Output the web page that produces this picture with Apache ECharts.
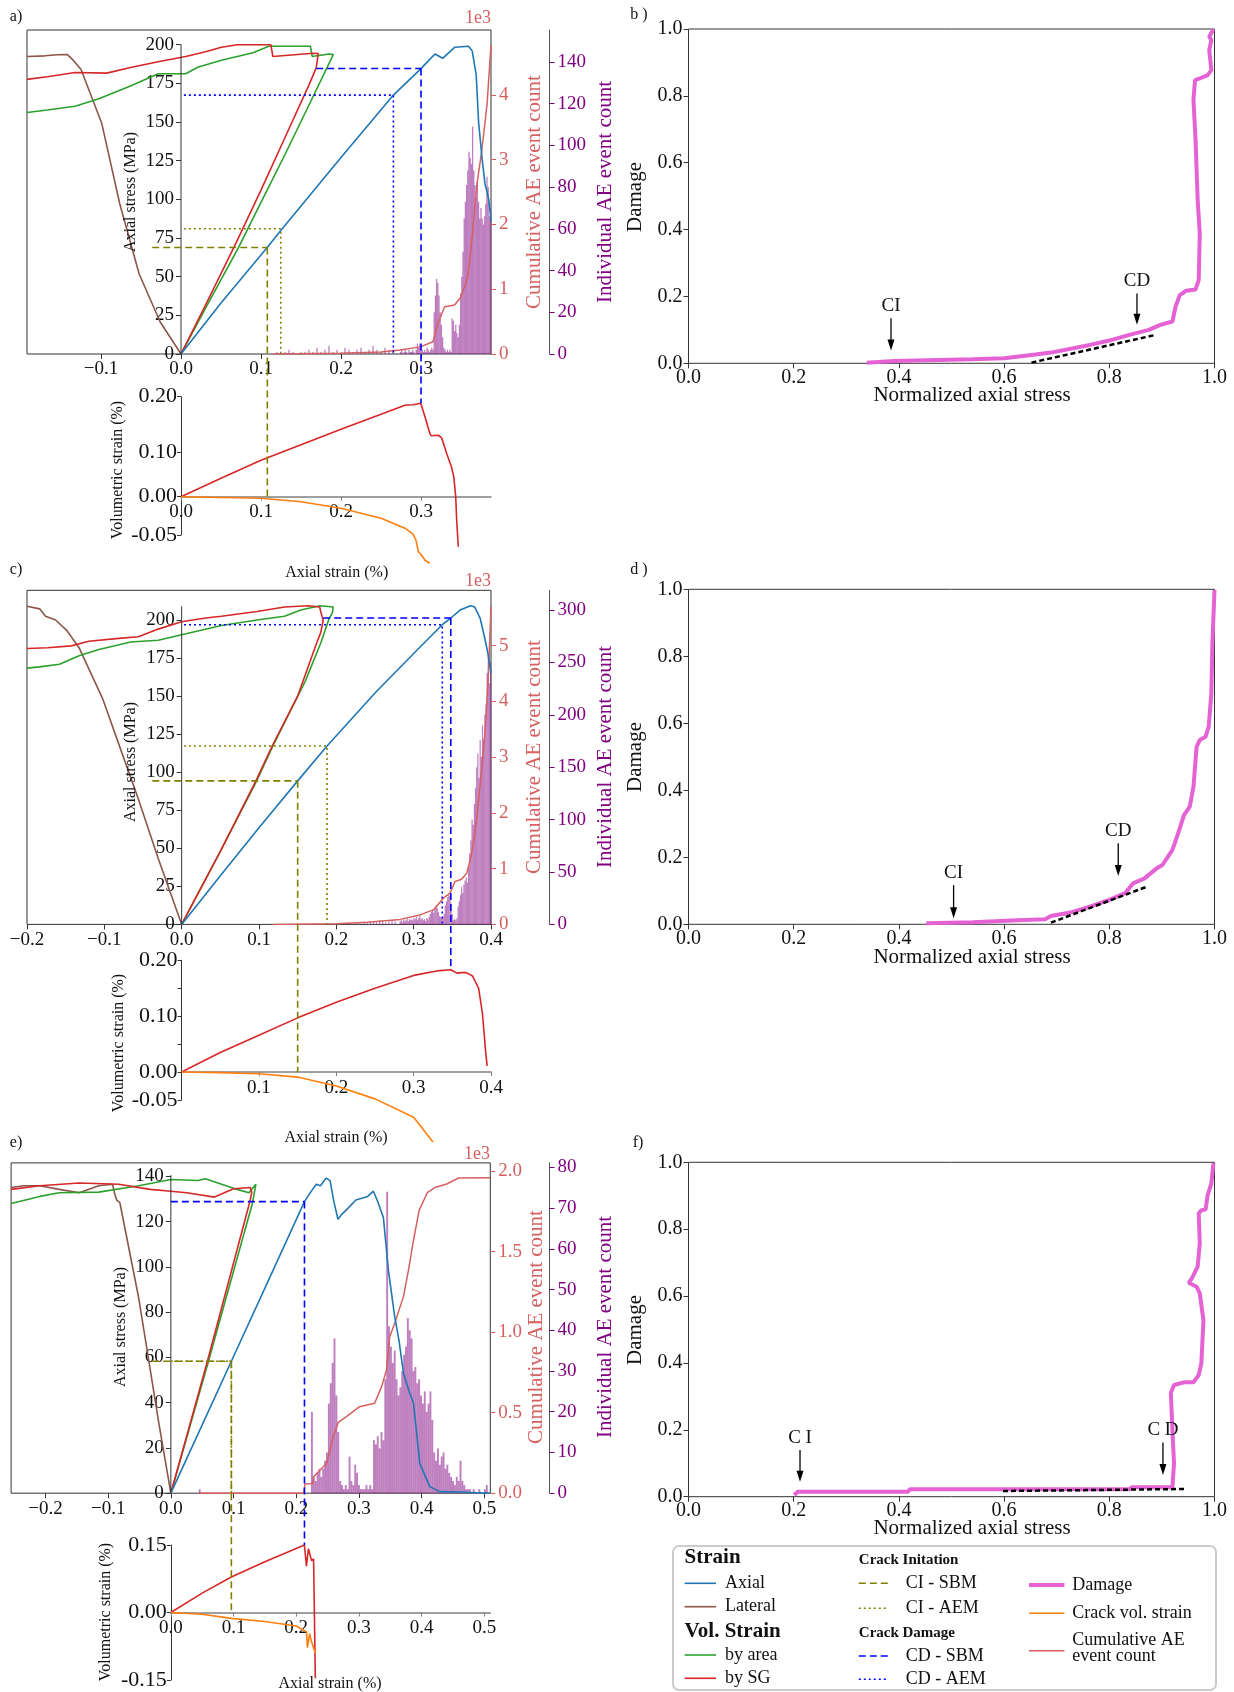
<!DOCTYPE html>
<html>
<head>
<meta charset="utf-8">
<script src="https://cdn.jsdelivr.net/npm/echarts@6/dist/echarts.min.js"></script>
<style>
  html, body { margin: 0; padding: 0; background: #fff; }
  #chart { width: 1234px; height: 1692px; }
</style>
</head>
<body>
<div id="chart"></div>
<script>
// ---------- panel a ----------
const aXTicks = [-0.1, 0, 0.1, 0.2, 0.3];
const aStressTicks = [0, 25, 50, 75, 100, 125, 150, 175, 200];
const aCumTicks = [0, 1, 2, 3, 4];
const aIndTicks = [0, 20, 40, 60, 80, 100, 120, 140];
const aVolTicks = [0.2, 0.088, 0, -0.0766];
const aVolLabels = ['0.20', '0.10', '0.00', '-0.05'];
const aSubXTicks = [0, 0.1, 0.2, 0.3];
const aAxial = [[0,0],[0.05,33],[0.108,69],[0.125,80],[0.2,127],[0.2655,167.4],[0.30,184.5],[0.31,190],[0.3175,194],[0.327,191.2],[0.342,198.3],[0.3595,199],[0.364,196],[0.369,180.5],[0.372,150],[0.376,128],[0.38,110],[0.3847,100],[0.3875,86]];
const aLateral = [[-0.1925,192.4],[-0.17,192.8],[-0.155,193.5],[-0.142,193.6],[-0.1348,190],[-0.1249,184],[-0.099,149],[-0.0765,97],[-0.0523,51.7],[-0.026,20.7],[0,0]];
const aVolArea = [[0,0],[0.03,29],[0.072,69],[0.1,98],[0.13,129],[0.16,161],[0.1904,193.6],[0.185,194],[0.164,192.4],[0.1617,199],[0.1098,199],[0.09,194.8],[0.0505,190],[0.0209,185.4],[0.006,181.2],[-0.0285,181.2],[-0.0632,173.3],[-0.1027,165],[-0.1323,160.2],[-0.167,157.8],[-0.1925,156.2]];
const aVolSG = [[0,0],[0.03,31],[0.069,72],[0.1,106],[0.13,140],[0.16,174],[0.169,185],[0.1716,194.3],[0.165,194.5],[0.1148,192.4],[0.1123,200],[0.0703,200],[0.0505,198.3],[0.0308,195.4],[0.0059,192.4],[-0.0285,189],[-0.0632,185.2],[-0.0928,181.6],[-0.1323,182],[-0.167,179.3],[-0.1925,177.6]];
const aCumAE = [[0.115,0],[0.2,0.01],[0.25,0.03],[0.274,0.06],[0.299,0.11],[0.315,0.19],[0.321,0.47],[0.3296,0.73],[0.342,0.755],[0.35,0.88],[0.3585,1.19],[0.3644,1.86],[0.37,2.63],[0.376,3.14],[0.3826,3.86],[0.3875,4.77]];
const aHistStart = 0.2745, aHistStep = 0.0015;
const aHistCounts = [1,2,0,1,2,1,0,2,1,1,2,1,0,2, 5,3,5,3, 2,1,2,1,3,2,1,2,3,2,
  20,28,36,34,28,20,14,8,3, 2,1,2,1,2,1, 17,16,11,14,10,8,14, 29,37,49,65,73,81,88,
  97,94,91,109,88,81,75, 83,73,65,70,65,62,66, 72,85,80,66,70];
const aSparseStart = 0.12, aSparseStep = 0.005;
const aSparseCounts = [1,0,1,2,1,0,1,1,2,1,3,1,2,4,1,2,1,3,2,1,2,3,1,2,4,2,1,3,2,2];
const aSubVolSG = [[0,0],[0.05,0.037],[0.1,0.073],[0.2,0.135],[0.28,0.183],[0.29,0.184],[0.2996,0.187],[0.305,0.16],[0.311,0.127],[0.3125,0.122],[0.3217,0.123],[0.326,0.117],[0.332,0.087],[0.338,0.06],[0.341,0.04],[0.3434,0],[0.3446,-0.047],[0.3466,-0.1]];
const aSubCrack = [[0,0],[0.1,-0.003],[0.15,-0.01],[0.2,-0.023],[0.25,-0.043],[0.28,-0.063],[0.29,-0.075],[0.2937,-0.087],[0.2967,-0.11],[0.3008,-0.117],[0.305,-0.127],[0.311,-0.133]];
// [x, stress, x start of horizontal, vol where vertical ends]
const aCISBM = [0.1079, 68.9, -0.036, 0];
const aCIAEM = [0.1247, 81.0, 0.0036];
const aCDSBM = [0.30, 184.6, 0.169, 0.187];
const aCDAEM = [0.2655, 167.4, 0.0036];

// ---------- panel c ----------
const cXTicks = [-0.2, -0.1, 0, 0.1, 0.2, 0.3, 0.4];
const cStressTicks = [0, 25, 50, 75, 100, 125, 150, 175, 200];
const cCumTicks = [0, 1, 2, 3, 4, 5];
const cIndTicks = [0, 50, 100, 150, 200, 250, 300];
const cVolTicks = [0.2, 0.15, 0.1, 0.05, 0, -0.05];
const cVolLabels = ['0.20', '', '0.10', '', '0.00', '-0.05'];
const cSubXTicks = [0.1, 0.2, 0.3, 0.4];
const cAxial = [[0,0],[0.05,32],[0.1,63.5],[0.15,94.3],[0.188,117.2],[0.25,152],[0.3,178],[0.337,196.9],[0.348,201.3],[0.36,206.5],[0.3735,209.3],[0.379,208.5],[0.386,201],[0.392,188],[0.396,178],[0.4,165]];
const cLateral = [[-0.2,209],[-0.1836,207.3],[-0.176,202.5],[-0.163,200],[-0.148,192.8],[-0.1327,181.8],[-0.1018,147.8],[-0.0814,118.6],[-0.0559,82.2],[-0.0303,43.3],[-0.015,21.4],[0,0]];
const cVolArea = [[0,0],[0.05,48],[0.097,94.3],[0.118,117.2],[0.16,160],[0.18,185],[0.19,200],[0.195,205],[0.196,208.5],[0.179,209.3],[0.154,206.6],[0.133,202.5],[0.0975,200],[0.0514,196.4],[0,190.3],[-0.0303,186.7],[-0.066,185.5],[-0.107,180.6],[-0.1327,176.5],[-0.158,170.9],[-0.1836,169.2],[-0.2,168.4]];
const cVolSG = [[0,0],[0.05,48],[0.096,94.3],[0.117,117.2],[0.15,150],[0.174,184],[0.18,192],[0.183,200],[0.18,205],[0.1785,208.5],[0.164,209.3],[0.133,208.5],[0.0975,205.6],[0.0514,202.5],[0.031,201.3],[0,198.8],[-0.0303,194],[-0.0559,189],[-0.0814,187.9],[-0.12,186],[-0.1428,183],[-0.1735,181.8],[-0.2,181.3]];
const cCumAE = [[0.118,0],[0.2,0.01],[0.24,0.04],[0.2824,0.09],[0.3082,0.17],[0.3255,0.26],[0.3384,0.47],[0.347,0.56],[0.3535,0.77],[0.362,0.81],[0.3687,0.92],[0.375,1.27],[0.3814,1.87],[0.3857,2.47],[0.39,3.07],[0.3935,3.66],[0.397,4.6],[0.4,5.7]];
const cHistStart = 0.2825, cHistStep = 0.0015;
const cHistCounts = [3,4,2,5,3,4,6,3,5,4, 5,4,6,5,7,4,6,8,5,6, 4,5,3,6,5,7,10,12,14,11,
  15,18,16,12,8,7,6,7,10,18, 22,26,28,27,20,10,4,5,4,6, 17,22,28,36,30,38,42,45,40,55,
  68,80,100,95,115,130,150,163,140,176, 160,190,177,200,210,240,257,230,250];
const cSparseStart = 0.2, cSparseStep = 0.004;
const cSparseCounts = [0,1,0,1,2,1,1,2,1,3,2,2,3,2,4,3,2,3,4,3];
const cSubVolSG = [[0,0],[0.05,0.035],[0.1,0.066],[0.15,0.097],[0.2,0.125],[0.25,0.15],[0.3,0.173],[0.33,0.181],[0.348,0.183],[0.356,0.177],[0.362,0.178],[0.368,0.178],[0.376,0.172],[0.384,0.15],[0.389,0.104],[0.393,0.038],[0.395,0.011]];
const cSubCrack = [[0,0],[0.05,-0.001],[0.1,-0.003],[0.15,-0.009],[0.2,-0.025],[0.25,-0.048],[0.3,-0.081],[0.325,-0.125]];
const cCISBM = [0.150, 94.3, -0.038, 0];
const cCIAEM = [0.188, 117.2, 0.003];
const cCDSBM = [0.348, 201.3, 0.183, 0.183];
const cCDAEM = [0.337, 196.9, 0.003];

// ---------- panel e ----------
const eXTicks = [-0.2, -0.1, 0, 0.1, 0.2, 0.3, 0.4, 0.5];
const eStressTicks = [0, 20, 40, 60, 80, 100, 120, 140];
const eCumTicks = [0, 0.5, 1, 1.5, 2];
const eIndTicks = [0, 10, 20, 30, 40, 50, 60, 70, 80];
const eVolTicks = [0.15, 0, -0.15];
const eVolLabels = ['0.15', '0.00', '-0.15'];
const eSubXTicks = [0, 0.1, 0.2, 0.3, 0.4, 0.5];
const eAxial = [[0,0],[0.05,30.2],[0.0965,58.3],[0.15,90.6],[0.2131,128.8],[0.226,134.2],[0.232,136.5],[0.2385,135.8],[0.2478,139.2],[0.254,138.1],[0.26,128.8],[0.2665,121],[0.273,123.3],[0.282,125.7],[0.295,129.5],[0.314,131.1],[0.323,133.4],[0.329,129.5],[0.339,121.8],[0.3469,98.6],[0.357,78],[0.364,67.3],[0.371,53],[0.38,45],[0.387,39.7],[0.397,13.2],[0.413,2.9],[0.429,0.7],[0.46,0.5],[0.509,0]];
const eLateral = [[-0.2548,135],[-0.2346,135.8],[-0.209,135.8],[-0.178,134.2],[-0.146,132.7],[-0.115,135.8],[-0.093,136.5],[-0.09,132.7],[-0.0863,129.5],[-0.0813,128.3],[-0.0511,86],[-0.0196,31.6],[0,0]];
const eVolArea = [[0,0],[0.06,58.3],[0.13,128],[0.1357,136.5],[0.1245,132.7],[0.1056,134.2],[0.0552,138.9],[0.043,138.1],[0,138.6],[-0.0511,135.8],[-0.115,133],[-0.178,132.7],[-0.209,131.1],[-0.2548,128]];
const eVolSG = [[0,0],[0.0583,58.3],[0.1245,127.2],[0.1265,129.5],[0.129,132.7],[0.127,135],[0.1,134.5],[0.0697,130.8],[0.0256,132.7],[0,133.4],[-0.0327,134.2],[-0.0832,136.5],[-0.1462,137],[-0.209,135.8],[-0.2548,134.2]];
const eCumAE = [[0.046,0],[0.212,0],[0.214,0.057],[0.226,0.06],[0.2273,0.1],[0.2486,0.186],[0.259,0.35],[0.267,0.44],[0.28,0.475],[0.301,0.537],[0.325,0.558],[0.336,0.66],[0.344,0.765],[0.349,0.97],[0.357,1.055],[0.371,1.22],[0.379,1.385],[0.387,1.57],[0.396,1.755],[0.409,1.865],[0.421,1.897],[0.44,1.919],[0.459,1.956],[0.509,1.958]];
const eHistStart = 0.225, eHistStep = 0.003;
const eHistCounts = [20,4,3,5,6, 4,6,8,10,22, 27,32,38,24,15, 3,2,1,2,1, 9,3,2,7,5, 2,1,1,1,2,
  1,2,1,13,12, 14,11,15,13,28, 74,41,36,32,35, 28,24,26,30,34, 36,43,40,38,30, 31,27,28,24,22,
  25,20,22,25,18, 10,8,11,7,9, 10,6,7,5,4, 3,2,4,3,8, 3,2,1,1,1, 0,1,0,0,1, 0,0,1,2];
const eSparseStart = 0.046, eSparseStep = 0.003;
const eSparseCounts = [1];
const eSubVolSG = [[0,0],[0.05,0.043],[0.0965,0.079],[0.15,0.113],[0.2131,0.15],[0.2163,0.103],[0.2195,0.142],[0.2245,0.115],[0.2277,0.119],[0.2303,-0.126],[0.2305,-0.146]];
const eSubCrack = [[0,0],[0.05,-0.004],[0.0965,-0.013],[0.15,-0.02],[0.2,-0.03],[0.2163,-0.043],[0.2179,-0.078],[0.2214,-0.047],[0.224,-0.063],[0.2303,-0.09]];
const eCISBM = [0.0965, 58.3, -0.0297, 0];
const eCIAEM = [0.0965, 58.3, 0];
const eCDSBM = [0.2131, 128.8, 0, 0.15];

// ---------- damage panels b, d, f ----------
const dmgTicks = [0, 0.2, 0.4, 0.6, 0.8, 1.0];
const bDamage = [[0.339,0.002],[0.391,0.007],[0.54,0.012],[0.6,0.015],[0.652,0.025],[0.689,0.032],[0.763,0.055],[0.8,0.068],[0.838,0.085],[0.875,0.1],[0.897,0.115],[0.92,0.125],[0.926,0.17],[0.934,0.204],[0.946,0.217],[0.964,0.221],[0.97,0.249],[0.972,0.389],[0.968,0.489],[0.964,0.668],[0.96,0.788],[0.963,0.847],[0.972,0.852],[0.987,0.862],[0.994,0.877],[0.99,0.937],[0.994,0.967],[0.99,0.977],[0.998,0.999]];
const bTangent = [[0.652,0.002],[0.888,0.085]];
const bArrows = [['CI', 0.385, 0.135, 0.038, 0.171], ['CD', 0.8526, 0.209, 0.115, 0.246]];
const dDamage = [[0.452,0.003],[0.54,0.006],[0.614,0.011],[0.678,0.015],[0.689,0.025],[0.726,0.035],[0.763,0.053],[0.8,0.073],[0.83,0.093],[0.845,0.122],[0.867,0.137],[0.89,0.167],[0.901,0.177],[0.92,0.222],[0.931,0.272],[0.942,0.326],[0.953,0.351],[0.96,0.411],[0.966,0.53],[0.972,0.55],[0.983,0.56],[0.989,0.59],[0.994,0.69],[0.996,0.839],[1.0,0.998]];
const dTangent = [[0.689,0.005],[0.871,0.112]];
const dArrows = [['CI', 0.504, 0.117, 0.018, 0.154], ['CD', 0.817, 0.242, 0.144, 0.279]];
const fDamage = [[0.201,0.005],[0.208,0.015],[0.417,0.015],[0.421,0.022],[0.838,0.022],[0.842,0.028],[0.92,0.028],[0.923,0.1],[0.92,0.2],[0.917,0.31],[0.923,0.334],[0.942,0.342],[0.96,0.342],[0.97,0.364],[0.975,0.399],[0.979,0.528],[0.972,0.608],[0.966,0.628],[0.951,0.64],[0.957,0.653],[0.968,0.688],[0.972,0.758],[0.97,0.847],[0.975,0.857],[0.983,0.859],[0.987,0.902],[0.994,0.937],[0.998,0.997]];
const fTangent = [[0.598,0.017],[0.942,0.023]];
const fArrows = [['C I', 0.212, 0.14, 0.045, 0.174], ['C D', 0.902, 0.162, 0.065, 0.2]];

const FONT = '"Liberation Serif", "DejaVu Serif", serif';
const COL = {
  axial: '#1f77b4', lateral: '#8c564b', area: '#2ca02c', sg: '#d62728', crack: '#ff7f0e',
  cum: '#d65f5f', ind: '#800080', hist: 'rgba(128,0,128,0.5)', damage: '#e462d4',
  olive: '#808000', blue: '#0000ff', axis: '#333'
};
const DASH = [7, 4], DOT = [2, 3];

const chart = echarts.init(document.getElementById('chart'));
const grids = [], xAxes = [], yAxes = [], series = [];

function fmtX(v) { return (v < 0 ? '\u2212' : '') + Math.abs(v).toFixed(1); }
function lookup(ticks, labels) {
  return v => { const i = ticks.findIndex(t => Math.abs(t - v) < 1e-7); return i < 0 ? '' : labels[i]; };
}
function histData(start, step, counts) {
  return counts.map((c, i) => [+(start + i * step).toFixed(5), c]);
}
function addLine(xi, yi, data, color, width, dash, clip) {
  series.push({
    type: 'line', xAxisIndex: xi, yAxisIndex: yi, data: data, showSymbol: false, symbol: 'none',
    clip: clip !== false, silent: true, z: 3,
    lineStyle: { color: color, width: width, type: dash || 'solid' }
  });
}
function tickLabel(extra) {
  return Object.assign({ fontSize: 19, color: '#111', fontFamily: FONT }, extra);
}

const panels = [];
function stressPanel(p) {
  const g = grids.length;
  grids.push({ left: p.main[0], top: p.main[1], width: p.main[2], height: p.main[3],
    show: true, borderColor: COL.axis, borderWidth: 1, backgroundColor: 'transparent', outerBoundsMode: 'none' });
  // stress axis sits at axial strain = 0, shifted in from the left edge of the box
  const zeroShift = p.main[2] * (0 - p.xRange[0]) / (p.xRange[1] - p.xRange[0]);
  const xi = xAxes.length;
  xAxes.push({ gridIndex: g, type: 'value', min: p.xRange[0], max: p.xRange[1], position: 'bottom',
    axisLine: { show: false, onZero: false }, splitLine: { show: false },
    axisTick: { customValues: p.xTicks, length: 5, lineStyle: { color: COL.axis } },
    axisLabel: tickLabel({ customValues: p.xTicks, formatter: fmtX, margin: 6 }) });
  const ys = yAxes.length;
  yAxes.push({ gridIndex: g, type: 'value', min: 0, max: p.stressMax, position: 'left', offset: -zeroShift,
    axisLine: { show: false, onZero: false }, splitLine: { show: false },
    axisTick: { customValues: p.stressTicks, length: 5, lineStyle: { color: COL.axis } },
    axisLabel: tickLabel({ customValues: p.stressTicks, margin: 7 }) });
  yAxes.push({ gridIndex: g, type: 'value', min: 0, max: p.cumMax, position: 'right',
    axisLine: { show: false, onZero: false }, splitLine: { show: false },
    axisTick: { customValues: p.cumTicks, length: 5, lineStyle: { color: COL.cum } },
    axisLabel: tickLabel({ customValues: p.cumTicks, color: COL.cum, margin: 8,
      formatter: v => v.toFixed(p.cumDigits) }) });
  yAxes.push({ gridIndex: g, type: 'value', min: 0, max: p.indMax, position: 'right', offset: p.indOffset,
    axisLine: { show: true, onZero: false, lineStyle: { color: '#555' } }, splitLine: { show: false },
    axisTick: { customValues: p.indTicks, length: 5, lineStyle: { color: COL.ind } },
    axisLabel: tickLabel({ customValues: p.indTicks, color: COL.ind, margin: 8 }) });
  const yc = ys + 1, yn = ys + 2;

  // sub plot: volumetric strain, its strain axis sits at vol = 0
  const gs = grids.length;
  grids.push({ left: p.sub[0], top: p.sub[1], width: p.sub[2], height: p.sub[3], outerBoundsMode: 'none' });
  const volShift = p.sub[3] * (0 - p.volRange[0]) / (p.volRange[1] - p.volRange[0]);
  const xs = xAxes.length;
  xAxes.push({ gridIndex: gs, type: 'value', min: 0, max: p.xRange[1], position: 'bottom', offset: -volShift,
    axisLine: { show: true, onZero: false, lineStyle: { color: '#808080', width: 1.5 } }, splitLine: { show: false },
    axisTick: { customValues: p.subXTicks, length: 4, lineStyle: { color: '#808080' } },
    axisLabel: tickLabel({ customValues: p.subXTicks, formatter: v => v.toFixed(1), margin: 6 }) });
  const yv = yAxes.length;
  yAxes.push({ gridIndex: gs, type: 'value', min: p.volRange[0], max: p.volRange[1], position: 'left',
    axisLine: { show: true, onZero: false, lineStyle: { color: COL.axis } }, splitLine: { show: false },
    axisTick: { customValues: p.volTicks, length: 4, lineStyle: { color: COL.axis } },
    axisLabel: tickLabel({ customValues: p.volTicks, formatter: lookup(p.volTicks, p.volLabels), fontSize: 22, margin: 4 }) });

  // histogram of individual AE events
  const bars = histData(p.sparse[0], p.sparse[1], p.sparse[2]).concat(histData(p.hist[0], p.hist[1], p.hist[2]));
  series.push({ type: 'bar', xAxisIndex: xi, yAxisIndex: yn, data: bars, barWidth: p.histWidth,
    itemStyle: { color: COL.hist }, silent: true, z: 1 });
  addLine(xi, yc, p.cum, COL.cum, 1.5);
  addLine(xi, ys, p.lateral, COL.lateral, 1.6);
  addLine(xi, ys, p.area, COL.area, 1.6);
  addLine(xi, ys, p.sg, COL.sg, 1.6);
  addLine(xi, ys, p.axial, COL.axial, 1.6);
  // stress axis spine at x = 0
  addLine(xi, ys, [[0, 0], [0, p.stressSpine]], COL.axis, 1);
  addLine(xs, yv, p.subSG, COL.sg, 1.6, null, false);
  addLine(xs, yv, p.subCrack, COL.crack, 1.6, null, false);

  // crack initiation / crack damage thresholds inside the stress plot
  addLine(xi, ys, [[p.ciSBM[2], p.ciSBM[1]], [p.ciSBM[0], p.ciSBM[1]]], COL.olive, 1.6, DASH);
  addLine(xi, ys, [[p.ciAEM[2], p.ciAEM[1]], [p.ciAEM[0], p.ciAEM[1]], [p.ciAEM[0], 0]], COL.olive, 1.6, DOT);
  addLine(xi, ys, [[p.cdSBM[2], p.cdSBM[1]], [p.cdSBM[0], p.cdSBM[1]]], COL.blue, 1.6, DASH);
  if (p.cdAEM) addLine(xi, ys, [[p.cdAEM[2], p.cdAEM[1]], [p.cdAEM[0], p.cdAEM[1]], [p.cdAEM[0], 0]], COL.blue, 1.6, DOT);

  panels.push({ p: p, xi: xi, ys: ys, xs: xs, yv: yv });
}

function damagePanel(box, data, tangent) {
  const g = grids.length;
  grids.push({ left: box[0], top: box[1], width: box[2], height: box[3], show: true,
    borderColor: COL.axis, borderWidth: 1, outerBoundsMode: 'none' });
  const xi = xAxes.length;
  xAxes.push({ gridIndex: g, type: 'value', min: 0, max: 1, axisLine: { show: false, onZero: false },
    splitLine: { show: false }, axisTick: { customValues: dmgTicks, length: 5, lineStyle: { color: COL.axis } },
    axisLabel: tickLabel({ customValues: dmgTicks, formatter: v => v.toFixed(1), fontSize: 20, margin: 4 }) });
  const yi = yAxes.length;
  yAxes.push({ gridIndex: g, type: 'value', min: 0, max: 1, axisLine: { show: false, onZero: false },
    splitLine: { show: false }, axisTick: { customValues: dmgTicks, length: 5, lineStyle: { color: COL.axis } },
    axisLabel: tickLabel({ customValues: dmgTicks, formatter: v => v.toFixed(1), fontSize: 20, margin: 6 }) });
  addLine(xi, yi, data, COL.damage, 4);
  addLine(xi, yi, tangent, '#000', 2.5, [5, 3]);
  return { xi: xi, yi: yi };
}

stressPanel({
  main: [27, 30, 464, 324], sub: [181, 396.7, 310, 138.3],
  xRange: [-0.1925, 0.3875], xTicks: aXTicks, stressMax: 209.5, stressTicks: aStressTicks, stressSpine: 200,
  cumMax: 5.0, cumTicks: aCumTicks, cumDigits: 0, indMax: 155.3, indTicks: aIndTicks, indOffset: 58.6,
  volRange: [-0.0766, 0.2], volTicks: aVolTicks, volLabels: aVolLabels, subXTicks: aSubXTicks,
  axial: aAxial, lateral: aLateral, area: aVolArea, sg: aVolSG, cum: aCumAE,
  hist: [aHistStart, aHistStep, aHistCounts], sparse: [aSparseStart, aSparseStep, aSparseCounts], histWidth: 1.3,
  subSG: aSubVolSG, subCrack: aSubCrack, ciSBM: aCISBM, ciAEM: aCIAEM, cdSBM: aCDSBM, cdAEM: aCDAEM
});
stressPanel({
  main: [27, 590.3, 464, 334.1], sub: [181.6, 960.3, 309.4, 139.7],
  xRange: [-0.2, 0.4], xTicks: cXTicks, stressMax: 219.5, stressTicks: cStressTicks, stressSpine: 209,
  cumMax: 5.99, cumTicks: cCumTicks, cumDigits: 0, indMax: 318.8, indTicks: cIndTicks, indOffset: 58.6,
  volRange: [-0.05, 0.2], volTicks: cVolTicks, volLabels: cVolLabels, subXTicks: cSubXTicks,
  axial: cAxial, lateral: cLateral, area: cVolArea, sg: cVolSG, cum: cCumAE,
  hist: [cHistStart, cHistStep, cHistCounts], sparse: [cSparseStart, cSparseStep, cSparseCounts], histWidth: 1.2,
  subSG: cSubVolSG, subCrack: cSubCrack, ciSBM: cCISBM, ciAEM: cCIAEM, cdSBM: cCDSBM, cdAEM: cCDAEM
});
stressPanel({
  main: [11.1, 1162.9, 479.2, 330.3], sub: [170.8, 1545, 319.5, 135],
  xRange: [-0.2548, 0.5095], xTicks: eXTicks, stressMax: 145.9, stressTicks: eStressTicks, stressSpine: 140.5,
  cumMax: 2.05, cumTicks: eCumTicks, cumDigits: 1, indMax: 81.1, indTicks: eIndTicks, indOffset: 59.3,
  volRange: [-0.15, 0.15], volTicks: eVolTicks, volLabels: eVolLabels, subXTicks: eSubXTicks,
  axial: eAxial, lateral: eLateral, area: eVolArea, sg: eVolSG, cum: eCumAE,
  hist: [eHistStart, eHistStep, eHistCounts], sparse: [eSparseStart, eSparseStep, eSparseCounts], histWidth: 1.9,
  subSG: eSubVolSG, subCrack: eSubCrack, ciSBM: eCISBM, ciAEM: eCIAEM, cdSBM: eCDSBM, cdAEM: null
});
const dmgB = damagePanel([688.5, 29, 526, 334.3], bDamage, bTangent);
const dmgD = damagePanel([688.5, 589.3, 526, 335], dDamage, dTangent);
const dmgF = damagePanel([688.5, 1162.3, 526, 334.4], fDamage, fTangent);

chart.setOption({
  animation: false,
  textStyle: { fontFamily: FONT },
  grid: grids, xAxis: xAxes, yAxis: yAxes, series: series
});

// ---------- annotations (positions through the chart's own axes) ----------
const G = [];
function text(str, x, y, size, opts) {
  opts = opts || {};
  G.push({ type: 'text', x: x, y: y, rotation: opts.rot || 0, z: 20, silent: true,
    style: { text: str, fontSize: size, fontFamily: FONT, fontWeight: opts.bold ? 'bold' : 'normal',
      fill: opts.color || '#111', align: opts.align || 'center', verticalAlign: 'middle',
      textAlign: opts.align || 'center', textVerticalAlign: 'middle' } });
}
function seg(x1, y1, x2, y2, color, width, dash) {
  G.push({ type: 'line', z: 20, silent: true, shape: { x1: x1, y1: y1, x2: x2, y2: y2 },
    style: { stroke: color, lineWidth: width, lineDash: dash || null } });
}
const toPx = (xi, yi, pt) => chart.convertToPixel({ xAxisIndex: xi, yAxisIndex: yi }, pt);

// vertical threshold lines that run from the stress plot down into the volumetric plot
panels.forEach(o => {
  const p = o.p;
  [[p.ciSBM, COL.olive], [p.cdSBM, COL.blue]].forEach(([m, col]) => {
    const a = toPx(o.xi, o.ys, [m[0], m[1]]);
    const b = toPx(o.xs, o.yv, [m[0], m[3]]);
    seg(a[0], a[1], a[0], b[1], col, 1.6, DASH);
  });
});

// CI / CD arrows on the damage panels
[[dmgB, bArrows], [dmgD, dArrows], [dmgF, fArrows]].forEach(([d, arrows]) => {
  arrows.forEach(a => {
    const top = toPx(d.xi, d.yi, [a[1], a[2]]);
    const bot = toPx(d.xi, d.yi, [a[1], a[3]]);
    const lab = toPx(d.xi, d.yi, [a[1], a[4]]);
    seg(top[0], top[1], bot[0], bot[1] - 9, '#000', 1.3);
    G.push({ type: 'polygon', z: 20, silent: true,
      shape: { points: [[bot[0] - 3.5, bot[1] - 11], [bot[0] + 3.5, bot[1] - 11], [bot[0], bot[1]]] },
      style: { fill: '#000' } });
    text(a[0], lab[0], lab[1], 19);
  });
});

// axis titles
const R = Math.PI / 2;
[[130.5, 192], [130.5, 762], [120.6, 1327]].forEach(q => text('Axial stress (MPa)', q[0], q[1], 16, { rot: R }));
[[534, 192], [534, 757], [536, 1327]].forEach(q => text('Cumulative AE event count', q[0], q[1], 21, { rot: R, color: COL.cum }));
[[605, 192], [605, 757], [605, 1327]].forEach(q => text('Individual AE event count', q[0], q[1], 21, { rot: R, color: COL.ind }));
[[118, 470], [118.6, 1043], [106, 1612]].forEach(q => text('Volumetric strain (%)', q[0], q[1], 16, { rot: R }));
[[336.7, 572.7], [336, 1138], [330, 1684]].forEach(q => text('Axial strain (%)', q[0], q[1], 16));
[[491, 18.5], [491, 581], [490, 1154]].forEach(q => text('1e3', q[0], q[1], 18, { align: 'right', color: COL.cum }));
[197, 757, 1330].forEach(y => text('Damage', 635.7, y, 21, { rot: R }));
[395, 957, 1528].forEach(y => text('Normalized axial stress', 972, y, 21));
text('a)', 16, 17, 16); text('c)', 16, 570, 16); text('e)', 16, 1143, 16);
text('b )', 639, 15, 16); text('d )', 639, 570, 16); text('f)', 638, 1143, 16);

// legend box
G.push({ type: 'rect', z: 15, silent: true, shape: { x: 673, y: 1546, width: 543, height: 144, r: 6 },
  style: { fill: '#fff', stroke: '#cccccc', lineWidth: 2 } });
text('Strain', 684.6, 1558, 21, { align: 'left', bold: true });
text('Vol. Strain', 684.6, 1631.7, 21, { align: 'left', bold: true });
text('Crack Initation', 858.8, 1560, 15, { align: 'left', bold: true });
text('Crack Damage', 858.8, 1632.7, 15, { align: 'left', bold: true });
[['Axial', COL.axial, 1583.3], ['Lateral', COL.lateral, 1606.7], ['by area', COL.area, 1655], ['by SG', COL.sg, 1678.3]]
  .forEach(e => { seg(684.6, e[2], 716, e[2], e[1], 1.6); text(e[0], 725, e[2], 18, { align: 'left' }); });
[['CI - SBM', COL.olive, 1583.3, DASH], ['CI - AEM', COL.olive, 1608.3, DOT],
 ['CD - SBM', COL.blue, 1656, DASH], ['CD - AEM', COL.blue, 1679.3, DOT]]
  .forEach(e => { seg(858.8, e[2], 888.2, e[2], e[1], 1.6, e[3]); text(e[0], 905.8, e[2], 18, { align: 'left' }); });
seg(1029, 1585, 1064.4, 1585, COL.damage, 4); text('Damage', 1072.2, 1585, 18, { align: 'left' });
seg(1029, 1613.3, 1064.4, 1613.3, COL.crack, 1.6); text('Crack vol. strain', 1072.2, 1613.3, 18, { align: 'left' });
seg(1029, 1650.7, 1064.4, 1650.7, COL.cum, 1.6);
text('Cumulative AE', 1072.2, 1640, 18, { align: 'left' });
text('event count', 1072.2, 1656.7, 18, { align: 'left' });

chart.setOption({ graphic: G });
</script>
</body>
</html>
